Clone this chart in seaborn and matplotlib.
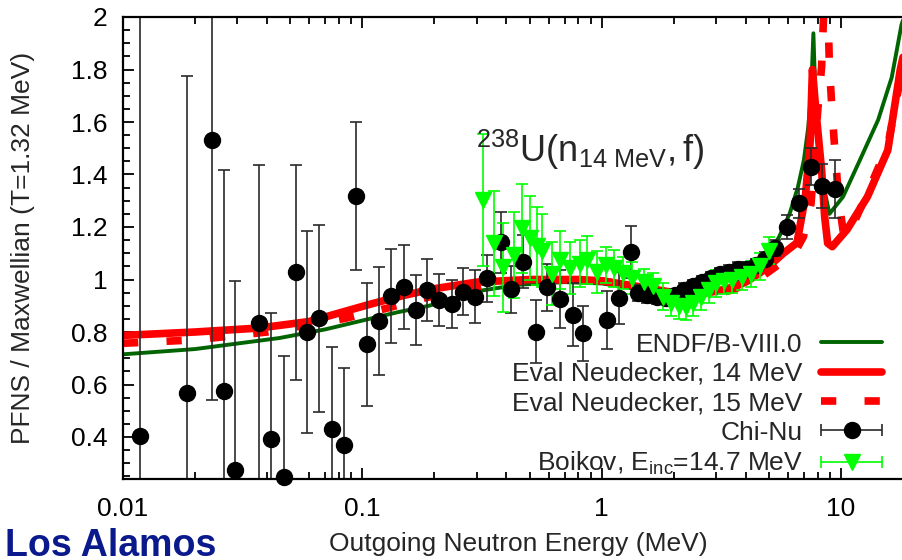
import numpy as np
import matplotlib
matplotlib.use("Agg")
import matplotlib.pyplot as plt
from matplotlib.container import ErrorbarContainer
from matplotlib.legend_handler import HandlerErrorbar
from matplotlib.ticker import FixedLocator, FuncFormatter, LogLocator, MultipleLocator, NullFormatter
import seaborn as sns

# ENDF/B-VIII.0 curve (ratio to Maxwellian)
endf_e = [0.01, 0.02, 0.045, 0.07, 0.107, 0.14, 0.19, 0.31, 0.45, 0.7, 1.0, 1.5, 2.0, 2.5, 3.0,
          3.5, 4.0, 4.5, 5.0, 5.5, 6.1, 6.6, 7.0, 7.3, 7.5, 7.67, 7.85, 8.0, 8.4, 8.95, 10.2,
          12.0, 14.3, 16.3, 17.9, 18.5]
endf_r = [0.715, 0.735, 0.777, 0.81, 0.85, 0.875, 0.90, 0.957, 0.98, 0.99, 0.985, 0.96, 0.94,
          0.935, 0.95, 0.975, 1.01, 1.05, 1.10, 1.16, 1.25, 1.35, 1.455, 1.58, 1.71, 1.938,
          1.65, 1.52, 1.37, 1.25, 1.315, 1.455, 1.608, 1.77, 1.97, 2.01]

# Eval Neudecker, 14 MeV
ev14_e = [0.01, 0.02, 0.037, 0.06, 0.107, 0.15, 0.2, 0.3, 0.5, 0.8, 1.0, 1.5, 2.0, 2.5, 3.0,
          3.5, 4.0, 4.5, 5.0, 5.75, 6.55, 7.1, 7.43, 7.6, 7.85, 8.3, 8.55, 8.8, 9.2, 10.6,
          12.9, 15.7, 17.7, 18.5]
ev14_r = [0.787, 0.80, 0.815, 0.84, 0.905, 0.94, 0.965, 0.99, 1.0, 1.0, 0.995, 0.97, 0.95,
          0.945, 0.955, 0.97, 0.99, 1.02, 1.05, 1.10, 1.14, 1.315, 1.52, 1.80, 1.646, 1.417,
          1.239, 1.138, 1.125, 1.19, 1.315, 1.493, 1.80, 1.88]

# Eval Neudecker, 15 MeV
ev15_e = [0.01, 0.02, 0.04, 0.085, 0.126, 0.18, 0.25, 0.4, 0.6, 1.0, 1.5, 2.0, 2.5, 3.0, 3.5,
          4.0, 4.5, 5.0, 5.75, 6.3, 6.97, 7.5, 8.0, 8.3, 8.5, 8.7, 8.85, 8.95, 9.2, 9.45, 9.8,
          10.3, 11.0, 12.9, 15.7, 18.5]
ev15_r = [0.757, 0.77, 0.80, 0.852, 0.89, 0.928, 0.96, 0.99, 1.0, 0.995, 0.97, 0.95, 0.94,
          0.945, 0.96, 0.98, 1.0, 1.03, 1.07, 1.09, 1.163, 1.29, 1.646, 1.81, 2.05, 2.1, 1.98,
          1.81, 1.63, 1.48, 1.30, 1.16, 1.19, 1.33, 1.51, 1.86]

# Chi-Nu measurement
chinu_e = [0.0118, 0.0186, 0.0235, 0.0263, 0.0295, 0.0371, 0.0416, 0.0469, 0.0526, 0.0588,
           0.0662, 0.0744, 0.0836, 0.094, 0.1045, 0.117, 0.132, 0.149, 0.167, 0.187, 0.21,
           0.236, 0.264, 0.295, 0.332, 0.378, 0.42, 0.47, 0.531, 0.589, 0.67, 0.76, 0.838,
           1.054, 1.186, 1.33, 1.42, 1.55, 1.70, 1.85, 2.02, 2.2, 2.4, 2.62, 2.86, 3.12, 3.4,
           3.7, 4.05, 4.4, 4.8, 5.31, 5.94, 6.65, 7.49, 8.37, 9.46]
chinu_r = [0.404, 0.566, 1.531, 0.576, 0.274, 0.835, 0.394, 0.249, 1.027, 0.801, 0.852, 0.432,
           0.371, 1.318, 0.753, 0.843, 0.938, 0.973, 0.884, 0.960, 0.922, 0.907, 0.953, 0.935,
           1.005, 1.142, 0.962, 1.068, 0.801, 0.970, 0.925, 0.865, 0.795, 0.845, 0.930, 1.105,
           0.95, 0.94, 0.935, 0.93, 0.94, 0.96, 0.975, 0.99, 1.005, 1.02, 1.03, 1.04, 1.04,
           1.055, 1.08, 1.119, 1.201, 1.29, 1.43, 1.357, 1.344]
chinu_err = [1.7, 1.21, 0.99, 0.84, 0.72, 0.60, 0.48, 0.46, 0.41, 0.385, 0.356, 0.31, 0.29,
             0.283, 0.233, 0.205, 0.18, 0.16, 0.135, 0.117, 0.10, 0.09, 0.09, 0.10, 0.09,
             0.116, 0.09, 0.10, 0.12, 0.09, 0.11, 0.12, 0.105, 0.11, 0.10, 0.10, 0.03, 0.03,
             0.03, 0.025, 0.025, 0.025, 0.025, 0.025, 0.025, 0.025, 0.025, 0.025, 0.025, 0.025,
             0.025, 0.03, 0.045, 0.055, 0.07, 0.083, 0.11]

# Boikov, E_inc = 14.7 MeV
boik_e = [0.318, 0.354, 0.387, 0.43, 0.463, 0.501, 0.535, 0.566, 0.618, 0.67, 0.735, 0.81,
          0.87, 0.96, 1.04, 1.13, 1.23, 1.34, 1.5, 1.64, 1.8, 1.95, 2.1, 2.25, 2.4, 2.6, 2.8,
          3.0, 3.25, 3.5, 3.85, 4.2, 4.6, 5.0]
boik_r = [1.303, 1.138, 1.046, 1.093, 1.195, 1.157, 1.128, 1.11, 1.021, 1.074, 1.043, 1.06,
          1.074, 1.03, 1.055, 1.043, 1.024, 1.005, 0.99, 0.975, 0.935, 0.91, 0.90, 0.895, 0.91,
          0.935, 0.96, 0.985, 0.995, 1.0, 1.01, 1.02, 1.05, 1.11]
boik_err = [0.25, 0.2, 0.17, 0.165, 0.17, 0.16, 0.15, 0.14, 0.12, 0.11, 0.10, 0.09, 0.09,
            0.08, 0.07, 0.07, 0.06, 0.06, 0.05, 0.05, 0.05, 0.05, 0.05, 0.05, 0.05, 0.05,
            0.05, 0.05, 0.05, 0.05, 0.05, 0.05, 0.05, 0.05]

sns.set_theme(style="ticks")
plt.rcParams['font.family'] = ['Liberation Sans', 'DejaVu Sans']
plt.rcParams['mathtext.fontset'] = 'custom'
plt.rcParams['mathtext.rm'] = 'Liberation Sans'
plt.rcParams['mathtext.it'] = 'Liberation Sans:italic'

W, H = 903, 560
fig = plt.figure(figsize=(W / 100, H / 100), dpi=100)
ax = fig.add_axes([123 / W, 81 / H, 790 / W, 462 / H])
ax.set_xscale('log')

sns.lineplot(x=endf_e, y=endf_r, ax=ax, color='#006400', lw=2.8, sort=False, estimator=None)
l_endf = ax.lines[-1]
sns.lineplot(x=ev14_e, y=ev14_r, ax=ax, color='#ff0000', lw=5.5, sort=False, estimator=None)
l_14 = ax.lines[-1]
sns.lineplot(x=ev15_e, y=ev15_r, ax=ax, color='#ff0000', lw=5.5, sort=False, estimator=None)
l_15 = ax.lines[-1]
l_15.set_dashes([2.0, 3.7])
l_15.set_dash_capstyle('butt')

chi_style = dict(fmt='o', color='black', ms=11.5, ecolor='#2a2a2a', elinewidth=1.2,
                 capsize=4, capthick=1.2)
boi_style = dict(fmt='v', color='#00ff00', ms=11.5, ecolor='#00ff00', elinewidth=1.2,
                 capsize=4, capthick=1.2)

eb_chi = ax.errorbar(chinu_e, chinu_r, yerr=chinu_err, **chi_style)
eb_chi[0].set_clip_on(False)
eb_boi = ax.errorbar(boik_e, boik_r, yerr=boik_err, **boi_style)

# legend keys drawn gnuplot-style (horizontal bar with end ticks)
key_chi = ax.errorbar([np.nan], [np.nan], xerr=[np.nan], **chi_style)
key_boi = ax.errorbar([np.nan], [np.nan], xerr=[np.nan], **boi_style)

ax.set_xlim(0.01, 20)
ax.set_ylim(0.24, 2.0)

ax.xaxis.set_major_locator(FixedLocator([0.01, 0.1, 1, 10]))
ax.xaxis.set_major_formatter(FuncFormatter(lambda v, p: '%g' % v))
ax.xaxis.set_minor_locator(LogLocator(base=10, subs=range(2, 10)))
ax.xaxis.set_minor_formatter(NullFormatter())
ax.yaxis.set_major_locator(MultipleLocator(0.2))
ax.yaxis.set_minor_locator(MultipleLocator(0.05))
ax.yaxis.set_major_formatter(FuncFormatter(lambda v, p: '%g' % round(v, 2)))

ax.tick_params(which='both', direction='in', top=True, right=True, colors='black',
               labelsize=19, width=1.3)
ax.tick_params(which='major', length=8)
ax.tick_params(which='minor', length=5)
ax.tick_params(axis='x', pad=13)
ax.tick_params(axis='y', pad=11)
for s in ax.spines.values():
    s.set_linewidth(1.6)
    s.set_color('black')

ax.set_xlabel('Outgoing Neutron Energy (MeV)', fontsize=19)
ax.set_ylabel('PFNS / Maxwellian (T=1.32 MeV)', fontsize=19)
ax.xaxis.set_label_coords(0.5, -0.115)
ax.yaxis.set_label_coords(-0.112, 0.5)

fig.text(476 / W, 1 - 162 / H, r'$\mathregular{^{238}U(n_{14\ MeV},f)}$', fontsize=26,
         va='baseline', ha='left')

handles = [l_endf, l_14, l_15, key_chi, key_boi]
labels = ['ENDF/B-VIII.0', 'Eval Neudecker, 14 MeV', 'Eval Neudecker, 15 MeV', 'Chi-Nu',
          r'Boikov, E$\mathregular{_{inc}}$=14.7 MeV']
ax.legend(handles, labels, loc='lower right', bbox_to_anchor=(882 / W, 83 / H),
          bbox_transform=fig.transFigure, frameon=False, markerfirst=False, fontsize=19,
          borderpad=0, borderaxespad=0, handlelength=2.3, handletextpad=0.7,
          labelspacing=0.2, numpoints=1,
          handler_map={ErrorbarContainer: HandlerErrorbar(xerr_size=1.15)})

fig.text(5 / W, 4 / H, 'Los Alamos', fontsize=27, fontweight='bold', color='#0a1a8c',
         va='baseline', ha='left')

fig.savefig('out.png', dpi=100)
